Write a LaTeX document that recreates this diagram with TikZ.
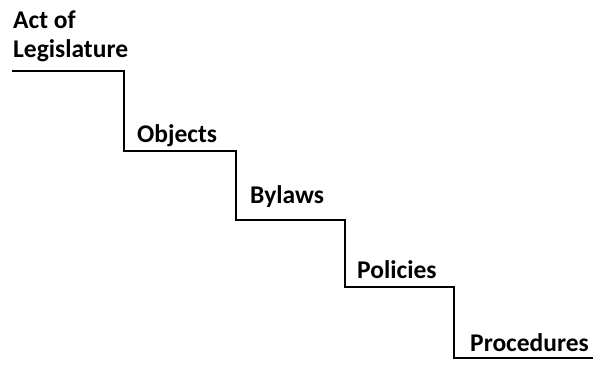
\documentclass[tikz,border=0pt]{standalone}
\usepackage{fontspec}
\setmainfont{Carlito}
\begin{document}
\begin{tikzpicture}[x=1pt,y=-1pt,
  lbl/.style={anchor=base west,inner sep=0pt,font=\fontsize{25.5}{30}\selectfont\bfseries},
  stair/.style={line width=2pt,line cap=rect,line join=miter}]
\useasboundingbox (0,0) rectangle (598,368);
\coordinate (p0) at (13,71);
\coordinate (p1) at (124,71);
\coordinate (p2) at (124,151);
\coordinate (p3) at (236,151);
\coordinate (p4) at (236,220);
\coordinate (p5) at (345,220);
\coordinate (p6) at (345,287);
\coordinate (p7) at (454,287);
\coordinate (p8) at (454,358);
\coordinate (p9) at (592,358);
\draw[stair] (p0) -- (p1) -- (p2) -- (p3) -- (p4) -- (p5) -- (p6) -- (p7) -- (p8) -- (p9);
\node[lbl] (act) at (13,28) {Act of};
\node[lbl] (leg) at (13,57) {Legislature};
\node[lbl] (obj) at (137,142) {Objects};
\node[lbl] (byl) at (250,203) {Bylaws};
\node[lbl] (pol) at (357,278) {Policies};
\node[lbl] (pro) at (470,351) {Procedures};
\end{tikzpicture}
\end{document}
